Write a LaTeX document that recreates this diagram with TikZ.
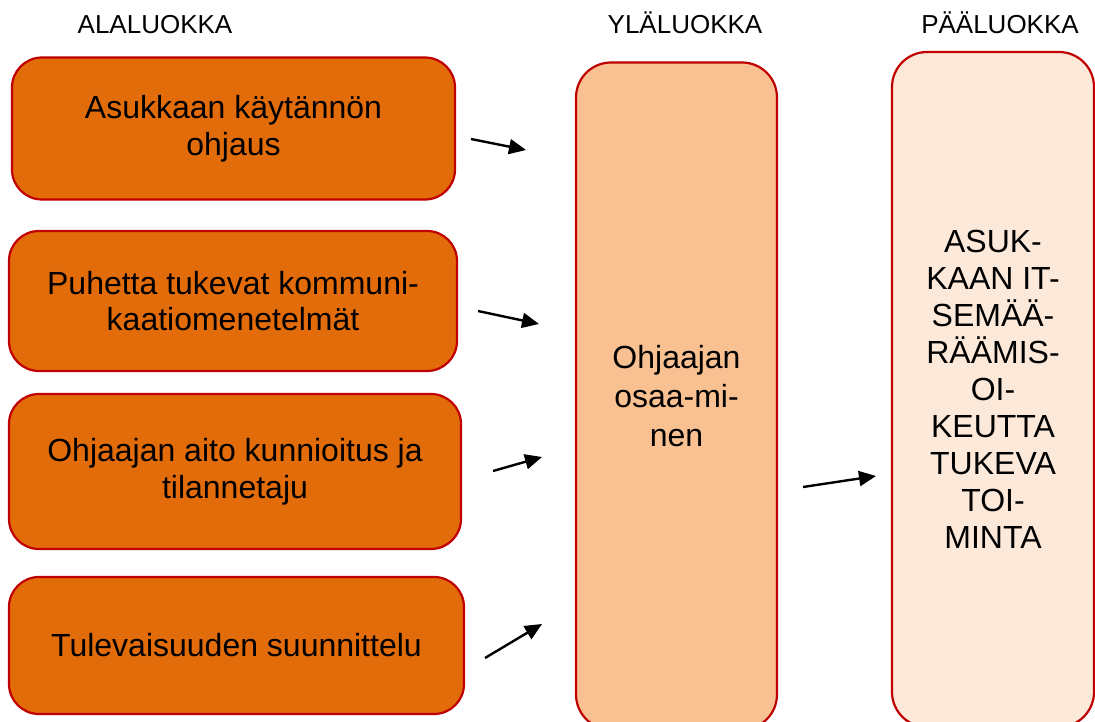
\documentclass[tikz,border=0pt]{standalone}
\usepackage{fontspec}
\setmainfont{Liberation Sans}
\usetikzlibrary{arrows.meta}
\definecolor{boxred}{HTML}{C00000}
\definecolor{orangefill}{HTML}{E36C0A}
\definecolor{peachfill}{HTML}{F9C091}
\definecolor{palefill}{HTML}{FDE9DA}
\tikzset{
  header/.style={anchor=base, font=\fontsize{26}{30}\selectfont, inner sep=0pt},
  subbox/.style={draw=boxred, line width=2.2pt, fill=orangefill, rounded corners=30pt,
    align=center, font=\fontsize{32}{36.5}\selectfont, inner sep=0pt},
  bigbox/.style={draw=boxred, line width=2.2pt, rounded corners=35pt,
    align=center, inner sep=0pt},
  link/.style={line width=2.4pt, -{Triangle[length=17pt,width=15pt]}}
}
\begin{document}
\begin{tikzpicture}[x=1pt,y=-1pt]
\useasboundingbox (0,0) rectangle (1095,722);
\clip (0,0) rectangle (1095,722);
% headers
\node[header] (h1) at (155,34) {ALALUOKKA};
\node[header] (h2) at (685,34) {YLÄLUOKKA};
\node[header] (h3) at (1000,34) {PÄÄLUOKKA};
% left boxes
\node[subbox, minimum width=443pt, minimum height=142pt] (b1) at (233.5,128.5) {Asukkaan käytännön\\ohjaus};
\node[subbox, minimum width=448pt, minimum height=140pt] (b2) at (233,301) {Puhetta tukevat kommuni-\\kaatiomenetelmät};
\node[subbox, minimum width=452pt, minimum height=155pt] (b3) at (235,471.5) {Ohjaajan aito kunnioitus ja\\tilannetaju};
\node[subbox, minimum width=455pt, minimum height=137pt] (b4) at (236.5,645.5) {Tulevaisuuden suunnittelu};
% big boxes
\node[bigbox, fill=peachfill, font=\fontsize{32}{39}\selectfont, minimum width=201pt, minimum height=667pt] (mid) at (676.5,396) {Ohjaajan\\osaa-mi-\\nen};
\node[bigbox, fill=palefill, font=\fontsize{32}{37}\selectfont, minimum width=202pt, minimum height=675pt] (main) at (993,389.5)
  {ASUK-\\KAAN IT-\\SEMÄÄ-\\RÄÄMIS-\\OI-\\KEUTTA\\TUKEVA\\TOI-\\MINTA};
% arrow end points
\coordinate (a1s) at (471,139);
\coordinate (a1e) at (526,150);
\coordinate (a2s) at (478,311);
\coordinate (a2e) at (539,324);
\coordinate (a3s) at (493,471);
\coordinate (a3e) at (542,457);
\coordinate (a4s) at (485,658);
\coordinate (a4e) at (542,624);
\coordinate (a5s) at (803,487);
\coordinate (a5e) at (876,476);
\draw[link] (a1s) -- (a1e);
\draw[link] (a2s) -- (a2e);
\draw[link] (a3s) -- (a3e);
\draw[link] (a4s) -- (a4e);
\draw[link] (a5s) -- (a5e);
\end{tikzpicture}
\end{document}
